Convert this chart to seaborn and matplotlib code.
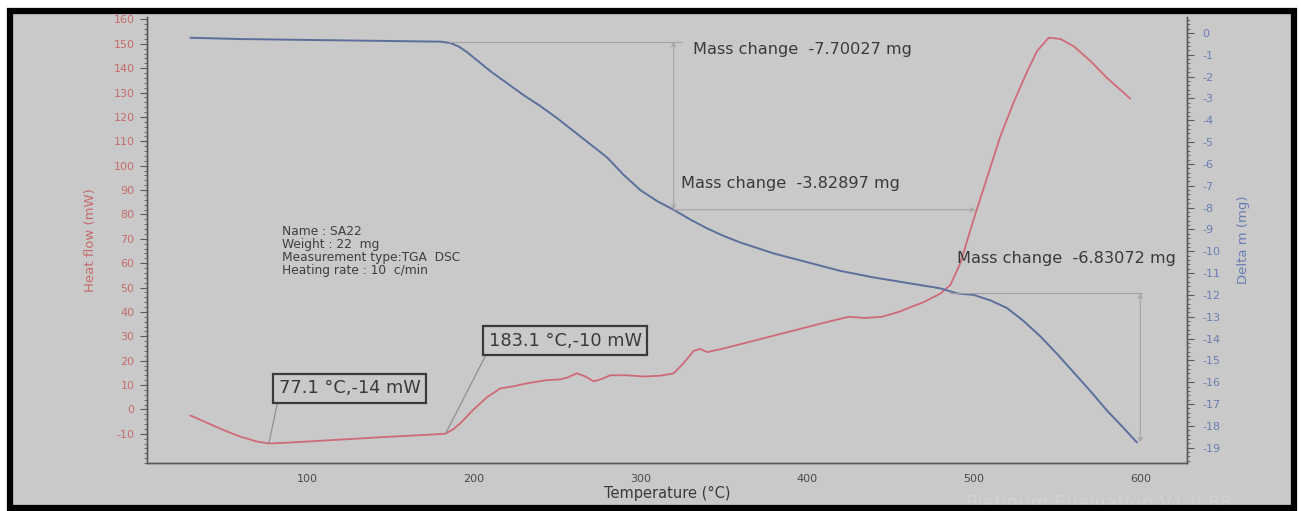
import matplotlib
matplotlib.use("Agg")
import matplotlib.pyplot as plt
from matplotlib.patches import Rectangle
from matplotlib.ticker import MultipleLocator
import seaborn as sns

# Heat flow (DSC) trace
temp_hf = [30, 40, 50, 60, 70, 77.1, 90, 110, 130, 150, 170, 183.1, 188, 192,
           200, 208, 216, 224, 232, 244, 252, 256, 262, 267, 272, 277, 282,
           292, 302, 312, 320, 326, 332, 336, 340, 350, 370, 390, 410, 425,
           435, 445, 455, 470, 480, 486, 492, 500, 508, 516, 524, 531, 538,
           545, 552, 560, 570, 580, 594]
heat_flow = [-2.5, -5.5, -8.5, -11.2, -13.2, -14, -13.6, -12.8, -12.0, -11.2,
             -10.5, -10, -8, -5.7, 0, 5, 8.6, 9.5, 10.7, 12, 12.3, 13, 14.8,
             13.5, 11.5, 12.5, 14, 14, 13.5, 13.8, 14.8, 19, 24, 24.8, 23.5,
             25, 28.5, 32, 35.5, 38, 37.5, 38, 40, 44, 47.5, 51, 60, 78, 95,
             112, 126, 137, 147, 152.5, 152, 149, 143, 136, 127.5]

# Mass loss (TGA) trace
temp_tg = [30, 60, 100, 140, 180, 186, 191, 196, 202, 210, 220, 230, 240,
           250, 260, 270, 280, 290, 300, 310, 320, 330, 340, 350, 360, 380,
           400, 420, 440, 460, 480, 490, 500, 510, 520, 530, 540, 550, 560,
           570, 580, 590, 598]
delta_m = [-0.22, -0.28, -0.32, -0.36, -0.40, -0.46, -0.62, -0.88, -1.25,
           -1.75, -2.3, -2.85, -3.35, -3.9, -4.5, -5.1, -5.7, -6.5, -7.2,
           -7.7, -8.10, -8.55, -8.95, -9.3, -9.6, -10.1, -10.5, -10.9, -11.2,
           -11.45, -11.7, -11.93, -12.0, -12.25, -12.6, -13.2, -13.9, -14.7,
           -15.55, -16.4, -17.3, -18.1, -18.76]

# Stepwise mass changes and the temperatures where they are measured
mass_start = -0.40
mass_steps = [-7.70027, -3.82897, -6.83072]
step_temps = [320, 490, 600]

peak_temps = [77.1, 183.1]
peak_values = [-14, -10]

x_ticks = [100, 200, 300, 400, 500, 600]

info_lines = ["Name : SA22", "Weight : 22  mg",
              "Measurement type:TGA  DSC", "Heating rate : 10  c/min"]

BG = "#c9c9c9"
RED = "#cf6a78"
BLUE = "#5b6f9a"
RED_TXT = "#c66b6b"
BLUE_TXT = "#6b7db2"
GUIDE = "#a3a3a3"

sns.set_theme(style="white")
plt.rcParams["font.family"] = ["DejaVu Sans"]
plt.rcParams["axes.unicode_minus"] = False

W, H = 1301, 511
fig = plt.figure(figsize=(W / 100, H / 100), dpi=100, facecolor="white")

# panel background and black frame
fig.patches.append(Rectangle((10 / W, 3 / H), 1284 / W, 497 / H,
                             transform=fig.transFigure, facecolor=BG,
                             edgecolor="none", zorder=-3))
fig.text(966 / W, 8 / H, "Platinum Evaluation V1.0.88", fontsize=13.5,
         color="#d1d1d1", ha="left", va="center", zorder=-2)
fig.patches.append(Rectangle((10 / W, 3 / H), 1284 / W, 497 / H,
                             transform=fig.transFigure, fill=False,
                             edgecolor="black", lw=4.5, zorder=10))

ax = fig.add_axes([147 / W, 48 / H, 1040 / W, 446 / H])
ax.set_facecolor("none")
ax2 = ax.twinx()

sns.lineplot(x=temp_hf, y=heat_flow, ax=ax, color=RED, linewidth=1.3)
sns.lineplot(x=temp_tg, y=delta_m, ax=ax2, color=BLUE, linewidth=1.4)

ax.set_xlim(4, 628)
ax.set_ylim(-22, 161)
ax2.set_ylim(-19.7, 0.73)

ax.set_xticks(x_ticks)
ax.xaxis.set_minor_locator(MultipleLocator(10))
ax.set_yticks(range(-10, 161, 10))
ax.yaxis.set_minor_locator(MultipleLocator(2))
ax2.set_yticks(range(-19, 1))
ax2.yaxis.set_minor_locator(MultipleLocator(0.2))

for a in (ax, ax2):
    for side in ("left", "right", "bottom"):
        a.spines[side].set_color("#5a5a5a")
        a.spines[side].set_linewidth(1.0)
    a.spines["top"].set_visible(False)

ax.tick_params(axis="x", which="major", direction="out", length=5, width=0.8,
               color="#5a5a5a", labelcolor="#4a4a4a", labelsize=8, pad=3)
ax.tick_params(axis="x", which="minor", direction="out", length=2.5,
               width=0.6, color="#5a5a5a")
ax.tick_params(axis="y", which="major", direction="out", length=5, width=0.8,
               color="#5a5a5a", labelcolor=RED_TXT, labelsize=8, pad=4)
ax.tick_params(axis="y", which="minor", direction="out", length=2.5,
               width=0.6, color="#5a5a5a")
ax2.tick_params(axis="y", which="major", direction="out", length=5, width=0.8,
                color="#5a5a5a", labelcolor=BLUE_TXT, labelsize=8, pad=6)
ax2.tick_params(axis="y", which="minor", direction="out", length=2.5,
                width=0.6, color="#5a5a5a")

ax.set_xlabel("Temperature (°C)", fontsize=10.5, color="#3a3a3a", labelpad=1)
ax.set_ylabel("Heat flow (mW)", fontsize=9.5, color=RED_TXT, labelpad=12)
ax2.set_ylabel("Delta m (mg)", fontsize=9.5, color=BLUE_TXT, labelpad=12,
               rotation=90)

# peak annotations on the heat flow trace
box_pos = [(83, 5.0), (209, 24.5)]
for t, v, (bx, by) in zip(peak_temps, peak_values, box_pos):
    ax.annotate(f"{t} °C,{v} mW", xy=(t, v), xytext=(bx, by),
                textcoords="data", ha="left", va="bottom", fontsize=12.8,
                color="#3a3a3a",
                bbox=dict(boxstyle="square,pad=0.3", fc="none", ec="#3a3a3a",
                          lw=1.6),
                arrowprops=dict(arrowstyle="-", color="#8a8a8a", lw=0.8,
                                relpos=(0, 0), shrinkA=0, shrinkB=0))

# mass-change guides on the TGA trace
levels = [mass_start]
for s in mass_steps:
    levels.append(levels[-1] + s)

gkw = dict(color=GUIDE, lw=0.8)
ax2.plot([185, 325], [levels[0], levels[0]], **gkw)
ax2.annotate("", xy=(step_temps[0], levels[0]), xytext=(step_temps[0], levels[1]),
             arrowprops=dict(arrowstyle="<->", color=GUIDE, lw=0.8,
                             shrinkA=0, shrinkB=0, mutation_scale=7))
ax2.annotate("", xy=(501, levels[1]), xytext=(step_temps[0], levels[1]),
             arrowprops=dict(arrowstyle="->", color=GUIDE, lw=0.8,
                             shrinkA=0, shrinkB=0, mutation_scale=7))
ax2.plot([486, step_temps[2] + 1], [levels[2], levels[2]], **gkw)
ax2.annotate("", xy=(step_temps[2], levels[2]), xytext=(step_temps[2], levels[3]),
             arrowprops=dict(arrowstyle="<->", color=GUIDE, lw=0.8,
                             shrinkA=0, shrinkB=0, mutation_scale=7))

label_pos = [(331.5, -0.78), (324.5, -6.88), (490, -10.32)]
for s, (lx, ly) in zip(mass_steps, label_pos):
    ax2.text(lx, ly, f"Mass change  {s:.5f} mg", fontsize=11.6,
             color="#3a3a3a", ha="left", va="center")

ax.text(85, 75.5, "\n".join(info_lines), fontsize=8.8, color="#3e3e3e",
        ha="left", va="top", linespacing=1.0)

fig.savefig("out.png", dpi=100, facecolor=fig.get_facecolor())
